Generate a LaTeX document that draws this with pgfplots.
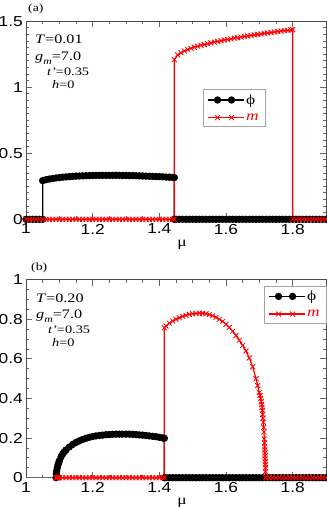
\documentclass[border=0pt]{standalone}
\usepackage{fontspec}
\setmainfont{Liberation Serif}[FakeStretch=1.25]
\newfontfamily\tsans{Liberation Sans}[FakeStretch=1.2]
\usepackage{pgfplots}
\pgfplotsset{compat=1.18}

\pgfplotsset{
  panel/.style={
    scale only axis, width=300bp, height=198bp,
    xmin=1, xmax=1.9, ymin=0,
    xtick={1,1.2,1.4,1.6,1.8}, minor x tick num=3,
    tick align=inside, clip=false,
    major tick length=6bp, minor tick length=3bp,
    axis line style={black!70, line width=0.8bp},
    every tick/.style={black!60, line width=0.8bp},
    /pgf/number format/assume math mode=true,
    ticklabel style={font=\tsans\fontsize{14.5}{15}\selectfont},
    yticklabel style={inner sep=3bp},
    xticklabel style={inner sep=1.5bp, yshift=-3bp},
    xlabel={\fontsize{14}{14}\selectfont μ},
    xlabel style={at={(axis description cs:0.52,0)}, anchor=base, yshift=-27bp, inner sep=0pt},
    legend cell align=left,
    legend image code/.code={\draw[mark indices={2,3},#1] plot coordinates {(0bp,0bp)(10bp,0bp)(24bp,0bp)(36bp,0bp)};},
  },
  lgd/.style={draw=black!35, fill=white, font=\fontsize{14}{14}\selectfont,
    inner xsep=4bp, inner ysep=3bp, row sep=4bp, nodes={inner sep=2bp}},
  phistyle/.style={black, line width=1.3bp, mark=*, mark size=3bp},
  mstyle/.style={red, line width=1.2bp, mark=x, mark size=3.5bp, mark options={line width=0.8bp}},
}

\begin{document}
\begin{tikzpicture}
\path[use as bounding box] (0,0) rectangle (327bp,507bp);

% ---------------- (a) T = 0.01
\begin{axis}[panel, at={(26bp,287.7bp)}, anchor=south west,
  ymax=1.5, ytick={0,0.5,1,1.5}, minor y tick num=9,
  legend style={lgd, at={(0.589,0.657)}, anchor=north west}]
\addplot[phistyle] coordinates {
(1.00,0)(1.01,0)(1.02,0)(1.03,0)(1.04,0)(1.05,0)
(1.05,0.293)(1.06,0.300)(1.07,0.305)(1.08,0.309)(1.09,0.313)(1.10,0.316)(1.11,0.319)(1.12,0.321)
(1.13,0.323)(1.14,0.325)(1.15,0.327)(1.16,0.328)(1.17,0.329)(1.18,0.330)(1.19,0.331)(1.20,0.332)
(1.21,0.332)(1.22,0.333)(1.23,0.333)(1.24,0.333)(1.25,0.333)(1.26,0.333)(1.27,0.333)(1.28,0.333)
(1.29,0.332)(1.30,0.332)(1.31,0.331)(1.32,0.331)(1.33,0.330)(1.34,0.329)(1.35,0.328)(1.36,0.327)
(1.37,0.326)(1.38,0.325)(1.39,0.324)(1.40,0.323)(1.41,0.322)(1.42,0.320)(1.43,0.319)(1.44,0.317)
(1.445,0.316)
(1.445,0)(1.45,0)(1.46,0)(1.47,0)(1.48,0)(1.49,0)(1.50,0)(1.51,0)(1.52,0)(1.53,0)(1.54,0)
(1.55,0)(1.56,0)(1.57,0)(1.58,0)(1.59,0)(1.60,0)(1.61,0)(1.62,0)(1.63,0)(1.64,0)(1.65,0)
(1.66,0)(1.67,0)(1.68,0)(1.69,0)(1.70,0)(1.71,0)(1.72,0)(1.73,0)(1.74,0)(1.75,0)(1.76,0)
(1.77,0)(1.78,0)(1.79,0)(1.80,0)(1.81,0)(1.82,0)(1.83,0)(1.84,0)(1.85,0)(1.86,0)(1.87,0)
(1.88,0)(1.89,0)(1.90,0)};
\addlegendentry{ϕ}
\addplot[mstyle] coordinates {
(1.00,0)(1.01,0)(1.02,0)(1.03,0)(1.04,0)(1.05,0)(1.06,0)(1.07,0)(1.08,0)(1.09,0)(1.10,0)
(1.11,0)(1.12,0)(1.13,0)(1.14,0)(1.15,0)(1.16,0)(1.17,0)(1.18,0)(1.19,0)(1.20,0)(1.21,0)
(1.22,0)(1.23,0)(1.24,0)(1.25,0)(1.26,0)(1.27,0)(1.28,0)(1.29,0)(1.30,0)(1.31,0)(1.32,0)
(1.33,0)(1.34,0)(1.35,0)(1.36,0)(1.37,0)(1.38,0)(1.39,0)(1.40,0)(1.41,0)(1.42,0)(1.43,0)
(1.44,0)(1.445,0)
(1.445,1.210)(1.455,1.245)(1.465,1.262)(1.475,1.275)(1.485,1.286)(1.495,1.295)(1.505,1.303)
(1.515,1.311)(1.525,1.318)(1.535,1.324)(1.545,1.330)(1.555,1.336)(1.565,1.342)(1.575,1.347)
(1.585,1.353)(1.595,1.358)(1.605,1.362)(1.615,1.367)(1.625,1.372)(1.635,1.376)(1.645,1.380)
(1.655,1.385)(1.665,1.389)(1.675,1.393)(1.685,1.397)(1.695,1.401)(1.705,1.404)(1.715,1.408)
(1.725,1.412)(1.735,1.415)(1.745,1.419)(1.755,1.422)(1.765,1.426)(1.775,1.429)(1.785,1.432)
(1.795,1.435)(1.80,1.437)
(1.80,0)(1.81,0)(1.82,0)(1.83,0)(1.84,0)(1.85,0)(1.86,0)(1.87,0)(1.88,0)(1.89,0)(1.90,0)};
\addlegendentry{\textcolor{red}{\textit{m}}}
\end{axis}

% ---------------- (b) T = 0.20
\begin{axis}[panel, at={(26bp,29.3bp)}, anchor=south west,
  ymax=1, ytick={0,0.2,0.4,0.6,0.8,1}, minor y tick num=3,
  legend style={lgd, at={(1,0.97)}, anchor=north east}]
\addplot[black!60, line width=0.6bp, forget plot] coordinates {(1.00,0)(1.09,0)};
\addplot[phistyle] coordinates {
(1.09,0)(1.091,0.020)(1.092,0.035)(1.094,0.050)(1.096,0.065)(1.098,0.075)(1.100,0.085)
(1.105,0.105)(1.110,0.120)(1.115,0.131)(1.12,0.140)(1.13,0.155)(1.14,0.168)(1.15,0.178)
(1.16,0.186)(1.17,0.193)(1.18,0.199)(1.19,0.204)(1.20,0.208)(1.21,0.211)(1.22,0.213)
(1.23,0.215)(1.24,0.217)(1.25,0.218)(1.26,0.219)(1.27,0.220)(1.28,0.220)(1.29,0.220)
(1.30,0.220)(1.31,0.220)(1.32,0.219)(1.33,0.218)(1.34,0.216)(1.35,0.215)(1.36,0.213)
(1.37,0.211)(1.38,0.209)(1.39,0.207)(1.40,0.204)(1.41,0.201)(1.415,0.199)
(1.415,0)(1.42,0)(1.43,0)(1.44,0)(1.45,0)(1.46,0)(1.47,0)(1.48,0)(1.49,0)(1.50,0)(1.51,0)
(1.52,0)(1.53,0)(1.54,0)(1.55,0)(1.56,0)(1.57,0)(1.58,0)(1.59,0)(1.60,0)(1.61,0)(1.62,0)
(1.63,0)(1.64,0)(1.65,0)(1.66,0)(1.67,0)(1.68,0)(1.69,0)(1.70,0)(1.71,0)(1.72,0)(1.73,0)
(1.74,0)(1.75,0)(1.76,0)(1.77,0)(1.78,0)(1.79,0)(1.80,0)(1.81,0)(1.82,0)(1.83,0)(1.84,0)
(1.85,0)(1.86,0)(1.87,0)(1.88,0)(1.89,0)(1.90,0)};
\addlegendentry{ϕ}
\addplot[mstyle] coordinates {
(1.090,0)(1.092,0)(1.094,0)(1.096,0)(1.098,0)(1.100,0)(1.11,0)(1.12,0)(1.13,0)(1.14,0)
(1.15,0)(1.16,0)(1.17,0)(1.18,0)(1.19,0)(1.20,0)(1.21,0)(1.22,0)(1.23,0)(1.24,0)(1.25,0)
(1.26,0)(1.27,0)(1.28,0)(1.29,0)(1.30,0)(1.31,0)(1.32,0)(1.33,0)(1.34,0)(1.35,0)(1.36,0)
(1.37,0)(1.38,0)(1.39,0)(1.40,0)(1.41,0)(1.415,0)
(1.415,0.757)(1.42,0.766)(1.43,0.780)(1.44,0.791)(1.45,0.800)(1.46,0.808)(1.47,0.815)
(1.48,0.820)(1.49,0.825)(1.50,0.828)(1.51,0.830)(1.52,0.831)(1.53,0.830)(1.54,0.828)
(1.55,0.824)(1.56,0.818)(1.57,0.810)(1.58,0.800)(1.59,0.789)(1.60,0.775)(1.61,0.759)
(1.62,0.740)(1.63,0.718)(1.64,0.694)(1.65,0.668)(1.66,0.640)(1.67,0.605)(1.68,0.560)
(1.69,0.500)(1.695,0.465)(1.700,0.430)(1.702,0.415)(1.704,0.400)(1.706,0.385)(1.707,0.370)
(1.708,0.355)(1.709,0.340)(1.710,0.320)(1.711,0.300)(1.712,0.280)(1.713,0.255)(1.714,0.230)
(1.715,0.195)(1.7155,0.175)(1.716,0.155)(1.7165,0.140)(1.717,0.125)(1.7172,0.110)
(1.7175,0.095)(1.7178,0.080)(1.718,0.065)(1.7182,0.050)(1.7185,0.030)(1.719,0)
(1.72,0)(1.73,0)(1.74,0)(1.75,0)(1.76,0)(1.77,0)(1.78,0)(1.79,0)(1.80,0)(1.81,0)(1.82,0)
(1.83,0)(1.84,0)(1.85,0)(1.86,0)(1.87,0)(1.88,0)(1.89,0)(1.90,0)};
\addlegendentry{\textcolor{red}{\textit{m}}}
\end{axis}

% ---------------- annotations
\begin{scope}[every node/.style={anchor=base west, inner sep=0pt, font=\fontsize{13}{13}\selectfont}]
\node at (28bp,495bp) {\fontsize{11}{11}\selectfont (a)};
\node at (35bp,463bp) {\textit{T}=0.01};
\node at (35bp,446bp) {\textit{g}\raisebox{-0.25em}{\fontsize{9.5}{10}\selectfont\textit{m}}=7.0};
\node[font=\fontsize{11.5}{11}\selectfont] at (47bp,431bp) {\textit{t'}=0.35};
\node[font=\fontsize{11.5}{11}\selectfont] at (52bp,418bp) {\textit{h}=0};
\node at (31bp,236bp) {\fontsize{11}{11}\selectfont (b)};
\node at (36bp,204bp) {\textit{T}=0.20};
\node at (36bp,188bp) {\textit{g}\raisebox{-0.25em}{\fontsize{9.5}{10}\selectfont\textit{m}}=7.0};
\node[font=\fontsize{11.5}{11}\selectfont] at (48bp,173bp) {\textit{t'}=0.35};
\node[font=\fontsize{11.5}{11}\selectfont] at (52bp,160bp) {\textit{h}=0};
\end{scope}
\end{tikzpicture}
\end{document}
